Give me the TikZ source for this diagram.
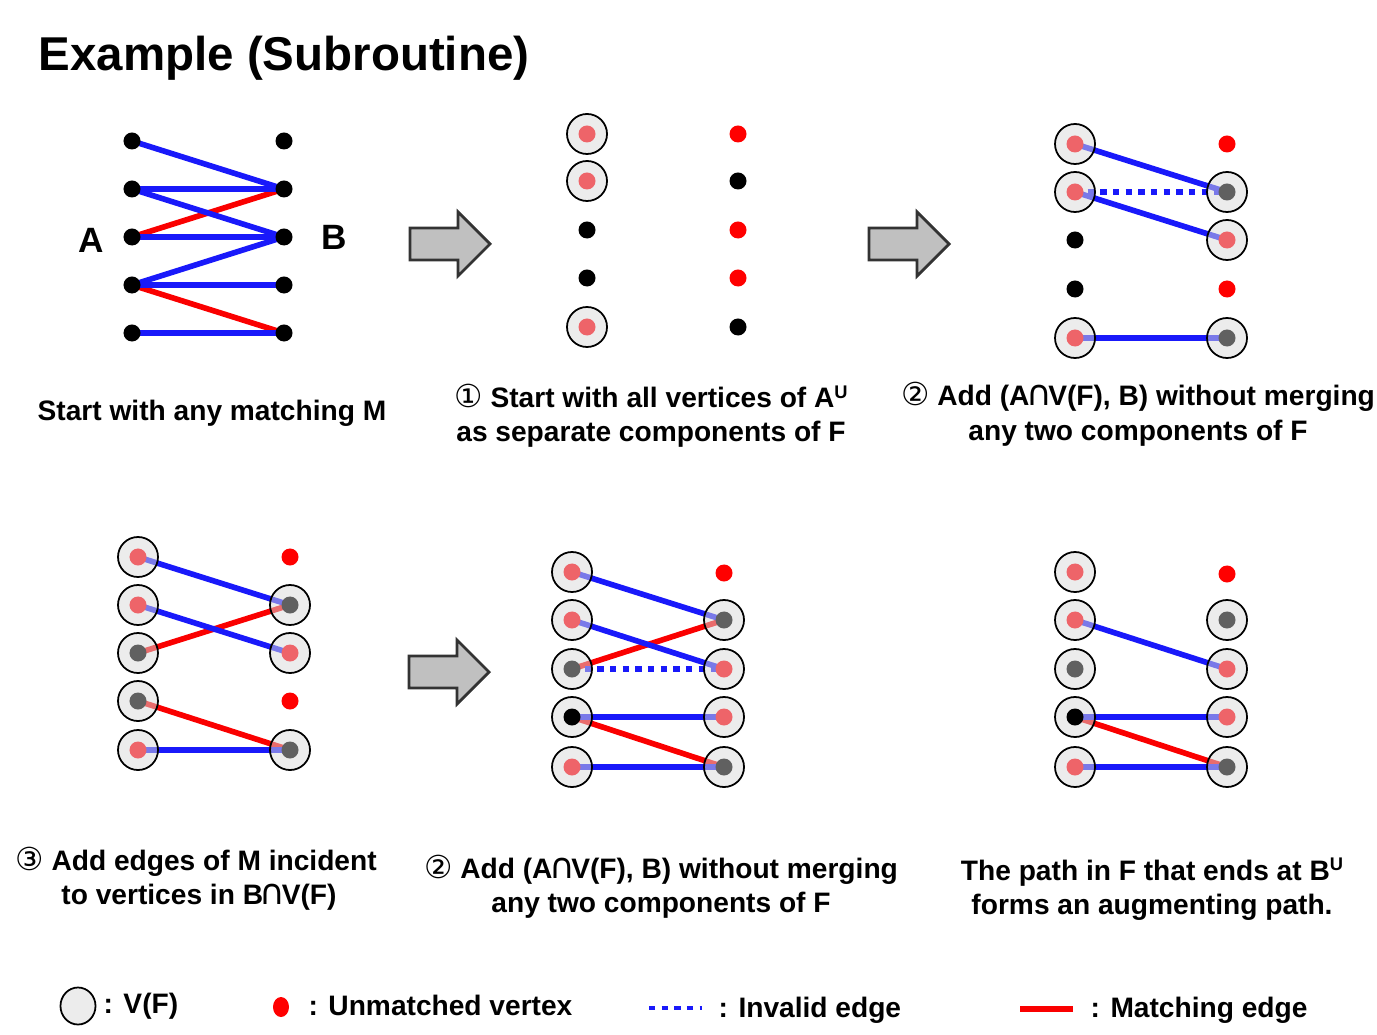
\documentclass[tikz,border=0pt]{standalone}
\usepackage{fontspec}
\setmainfont{Liberation Sans}
\newfontfamily\circfont{DejaVu Sans}
\usepackage{tikz}
\usetikzlibrary{backgrounds,shapes.geometric}

\definecolor{edgeblue}{RGB}{25,25,250}
\definecolor{matchred}{RGB}{250,0,0}
\definecolor{dotpink}{RGB}{238,100,105}
\definecolor{dotgray}{RGB}{96,96,96}
\definecolor{vfgray}{RGB}{217,217,217}
\definecolor{arrowgray}{RGB}{192,192,192}

\newcommand{\stepno}[1]{{\circfont\mdseries\fontsize{9}{10}\selectfont #1}}
\newcommand{\capsym}{\kern-1pt{\circfont\mdseries\fontsize{10}{11}\selectfont ∩}\kern-1pt}
\newcommand{\supU}{\raisebox{2.6pt}{\fontsize{5.2}{6}\selectfont U}}

\begin{document}
\begin{tikzpicture}[
        x=0.01cm, y=-0.01cm,
        dot/.style={circle, fill=black, inner sep=0, minimum size=0.17cm},
        free/.style={dot, fill=red},
        vf/.style={circle, draw=black, line width=0.5pt, fill=vfgray, fill opacity=0.5, inner sep=0, minimum size=0.4cm},
        nedge/.style={edgeblue, line width=1.6pt},
        medge/.style={matchred, line width=1.6pt},
        badedge/.style={edgeblue, line width=1.6pt, dash pattern=on 1.8pt off 1.8pt},
        blockarrow/.style={fill=arrowgray, draw=black!80, line width=0.8pt, line join=miter},
        caption/.style={anchor=base, inner sep=0, font=\bfseries\fontsize{8}{9.6}\selectfont},
        legend/.style={caption, anchor=base west}
    ]

    \useasboundingbox (0,0) rectangle (1377,1034);

    \node[anchor=base west, inner sep=0, font=\bfseries\fontsize{13.5}{16}\selectfont] (title) at (38,71) {Example (Subroutine)};

    % start with any matching
    \foreach \i/\y in {1/141,2/189,3/237,4/285,5/333} {
        \node[dot] (a\i) at (132,\y) {};
        \node[dot] (b\i) at (284,\y) {};
    }
    \node[caption, font=\bfseries\fontsize{10}{12}\selectfont] (labA) at (91,253) {A};
    \node[caption, font=\bfseries\fontsize{10}{12}\selectfont] (labB) at (334,250) {B};
    \begin{scope}[on background layer]
        \draw[medge] (a3.center) -- (b2.center);
        \draw[medge] (a4.center) -- (b5.center);
        \draw[nedge] (a1.center) -- (b2.center);
        \draw[nedge] (a2.center) -- (b2.center);
        \draw[nedge] (a2.center) -- (b3.center);
        \draw[nedge] (a3.center) -- (b3.center);
        \draw[nedge] (a4.center) -- (b3.center);
        \draw[nedge] (a4.center) -- (b4.center);
        \draw[nedge] (a5.center) -- (b5.center);
    \end{scope}
    \node[caption] (cap1) at (212,421) {Start with any matching M};

    % step 1
    \foreach \i/\y in {1/134,2/181,5/327} {
        \node[vf] (p2a\i) at (587,\y) {};
        \node[dot, fill=dotpink] (p2a\i-in) at (p2a\i) {};
    }
    \node[dot] (p2a3) at (587,230) {};
    \node[dot] (p2a4) at (587,278) {};
    \node[free] (p2b1) at (738,134) {};
    \node[dot] (p2b2) at (738,181) {};
    \node[free] (p2b3) at (738,230) {};
    \node[free] (p2b4) at (738,278) {};
    \node[dot] (p2b5) at (738,327) {};
    \node[caption] (cap2a) at (651,408) {\stepno{①} Start with all vertices of A\supU};
    \node[caption] (cap2b) at (651,442) {as separate components of F};

    % step 2
    \foreach \i/\y in {1/144,2/192,5/338} {
        \node[vf] (p3a\i) at (1075,\y) {};
        \node[dot, fill=dotpink] (p3a\i-in) at (p3a\i) {};
    }
    \node[dot] (p3a3) at (1075,240) {};
    \node[dot] (p3a4) at (1075,289) {};
    \node[free] (p3b1) at (1227,144) {};
    \node[free] (p3b4) at (1227,289) {};
    \foreach \i/\y/\c in {2/192/dotgray,3/240/dotpink,5/338/dotgray} {
        \node[vf] (p3b\i) at (1227,\y) {};
        \node[dot, fill=\c] (p3b\i-in) at (p3b\i) {};
    }
    \begin{scope}[on background layer]
        \draw[nedge] (p3a1.center) -- (p3b2.center);
        \draw[nedge] (p3a2.center) -- (p3b3.center);
        \draw[badedge] (p3a2.center) -- (p3b2.center);
        \draw[nedge] (p3a5.center) -- (p3b5.center);
    \end{scope}
    \node[caption] (cap3a) at (1138,406) {\stepno{②} Add (A\capsym V(F), B) without merging};
    \node[caption] (cap3b) at (1138,440) {any two components of F};

    % step 3
    \foreach \i/\y/\c in {1/557/dotpink,2/605/dotpink,3/653/dotgray,4/701/dotgray,5/750/dotpink} {
        \node[vf] (p4a\i) at (138,\y) {};
        \node[dot, fill=\c] (p4a\i-in) at (p4a\i) {};
    }
    \node[free] (p4b1) at (290,557) {};
    \node[free] (p4b4) at (290,701) {};
    \foreach \i/\y/\c in {2/605/dotgray,3/653/dotpink,5/750/dotgray} {
        \node[vf] (p4b\i) at (290,\y) {};
        \node[dot, fill=\c] (p4b\i-in) at (p4b\i) {};
    }
    \begin{scope}[on background layer]
        \draw[medge] (p4a3.center) -- (p4b2.center);
        \draw[medge] (p4a4.center) -- (p4b5.center);
        \draw[nedge] (p4a1.center) -- (p4b2.center);
        \draw[nedge] (p4a2.center) -- (p4b3.center);
        \draw[nedge] (p4a5.center) -- (p4b5.center);
    \end{scope}
    \node[caption] (cap4a) at (196,870) {\stepno{③} Add edges of M incident};
    \node[caption] (cap4b) at (199,904) {to vertices in B\capsym V(F)};

    % step 2 again
    \foreach \i/\y/\c in {1/572/dotpink,2/620/dotpink,3/669/dotgray,4/717/black,5/767/dotpink} {
        \node[vf] (p5a\i) at (572,\y) {};
        \node[dot, fill=\c] (p5a\i-in) at (p5a\i) {};
    }
    \node[free] (p5b1) at (724,573) {};
    \foreach \i/\y/\c in {2/620/dotgray,3/669/dotpink,4/717/dotpink,5/767/dotgray} {
        \node[vf] (p5b\i) at (724,\y) {};
        \node[dot, fill=\c] (p5b\i-in) at (p5b\i) {};
    }
    \begin{scope}[on background layer]
        \draw[medge] (p5a3.center) -- (p5b2.center);
        \draw[medge] (p5a4.center) -- (p5b5.center);
        \draw[nedge] (p5a1.center) -- (p5b2.center);
        \draw[nedge] (p5a2.center) -- (p5b3.center);
        \draw[badedge] (p5a3.center) -- (p5b3.center);
        \draw[nedge] (p5a4.center) -- (p5b4.center);
        \draw[nedge] (p5a5.center) -- (p5b5.center);
    \end{scope}
    \node[caption] (cap5a) at (661,878) {\stepno{②} Add (A\capsym V(F), B) without merging};
    \node[caption] (cap5b) at (661,912) {any two components of F};

    % augmenting path
    \foreach \i/\y/\c in {1/572/dotpink,2/620/dotpink,3/669/dotgray,4/717/black,5/767/dotpink} {
        \node[vf] (p6a\i) at (1075,\y) {};
        \node[dot, fill=\c] (p6a\i-in) at (p6a\i) {};
    }
    \node[free] (p6b1) at (1227,574) {};
    \foreach \i/\y/\c in {2/620/dotgray,3/669/dotpink,4/717/dotpink,5/767/dotgray} {
        \node[vf] (p6b\i) at (1227,\y) {};
        \node[dot, fill=\c] (p6b\i-in) at (p6b\i) {};
    }
    \begin{scope}[on background layer]
        \draw[medge] (p6a4.center) -- (p6b5.center);
        \draw[nedge] (p6a2.center) -- (p6b3.center);
        \draw[nedge] (p6a4.center) -- (p6b4.center);
        \draw[nedge] (p6a5.center) -- (p6b5.center);
    \end{scope}
    \node[caption] (cap6a) at (1152,880) {The path in F that ends at B\supU};
    \node[caption] (cap6b) at (1152,914) {forms an augmenting path.};

    % arrows between steps
    \foreach \x/\y in {410/244, 869/244, 409/672}
        \draw[blockarrow, shift={(\x,\y)}] (0,-16) -- (48,-16) -- (48,-32) -- (80,0) -- (48,32) -- (48,16) -- (0,16) -- cycle;

    % legend
    \node[vf, ellipse, minimum width=0.35cm, minimum height=0.37cm] (lvf) at (78,1006) {};
    \node[legend] (lvftext) at (103,1013) {: V(F)};
    \node[free, ellipse, minimum width=0.16cm, minimum height=0.2cm] (lfree) at (281,1007) {};
    \node[legend] (lfreetext) at (308,1015) {: Unmatched vertex};
    \coordinate (inv0) at (649,1008);
    \coordinate (inv1) at (702,1008);
    \draw[badedge, line width=1.2pt] (inv0) -- (inv1);
    \node[legend] (linvtext) at (718,1017) {: Invalid edge};
    \coordinate (mat0) at (1020,1009);
    \coordinate (mat1) at (1073,1009);
    \draw[medge, line width=1.9pt] (mat0) -- (mat1);
    \node[legend] (lmattext) at (1090,1017) {: Matching edge};

\end{tikzpicture}
\end{document}
